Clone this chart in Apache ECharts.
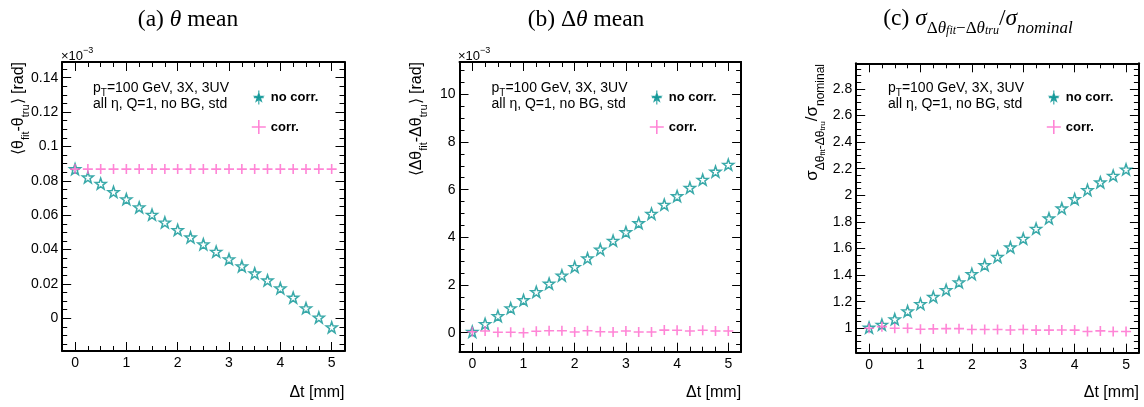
<!DOCTYPE html>
<html><head><meta charset="utf-8">
<script src="https://cdn.jsdelivr.net/npm/echarts@6/dist/echarts.min.js"></script>
<style>html,body{margin:0;padding:0;background:#fff}#c{width:1144px;height:407px}</style>
</head><body><div id="c"></div>
<script>
// ---------------- data ----------------
const deltaT = [0,0.25,0.5,0.75,1,1.25,1.5,1.75,2,2.25,2.5,2.75,3,3.25,3.5,3.75,4,4.25,4.5,4.75,5];
const xTickLabels = [0,1,2,3,4,5];
const seriesNames = ['no corr.','corr.'];
// (a) <theta_fit - theta_tru> [rad] x1e-3
const thetaMeanNoCorr = [0.0868,0.0820,0.0783,0.0735,0.0693,0.0646,0.0603,0.0558,0.0514,0.0471,0.0431,0.0388,0.0344,0.0303,0.0262,0.0221,0.0175,0.0121,0.0059,0.0005,-0.0052];
const thetaMeanCorr   = [0.0868,0.0868,0.0868,0.0868,0.0868,0.0868,0.0868,0.0868,0.0868,0.0868,0.0868,0.0868,0.0868,0.0868,0.0868,0.0868,0.0868,0.0868,0.0868,0.0868,0.0868];
// (b) <dtheta_fit - dtheta_tru> [rad] x1e-3
const dThetaMeanNoCorr = [0.04,0.37,0.70,1.03,1.37,1.71,2.06,2.40,2.76,3.12,3.49,3.86,4.22,4.60,4.99,5.37,5.73,6.08,6.42,6.76,7.05];
const dThetaMeanCorr   = [0.04,0.07,0.02,0.02,0.00,0.06,0.08,0.08,0.03,0.08,0.04,0.03,0.07,0.03,0.03,0.11,0.10,0.07,0.10,0.07,0.07];
// (c) sigma ratio
const sigmaRatioNoCorr = [1.005,1.027,1.068,1.128,1.183,1.236,1.288,1.346,1.408,1.475,1.537,1.609,1.674,1.749,1.827,1.902,1.972,2.040,2.098,2.148,2.195];
const sigmaRatioCorr   = [1.000,1.012,1.000,1.000,0.992,0.995,0.997,0.997,0.990,0.990,0.990,0.987,0.990,0.986,0.986,0.987,0.986,0.976,0.980,0.976,0.976];
// tick labels
const yTicksA = [0,0.02,0.04,0.06,0.08,0.1,0.12,0.14];
const yTicksB = [0,2,4,6,8,10];
const yTicksC = [1,1.2,1.4,1.6,1.8,2,2.2,2.4,2.6,2.8];

// ---------------- styling ----------------
const TEAL = '#089393';
const PINK = '#ff66cc';
const SANS = 'Liberation Sans, Arial, sans-serif';
const SERIF = 'Liberation Serif, Times New Roman, serif';

function starPath(cx, cy, R, r) {
  const p = [];
  for (let i = 0; i < 10; i++) {
    const a = -Math.PI / 2 + i * Math.PI / 5;
    const rr = i % 2 ? r : R;
    p.push((cx + rr * Math.cos(a)).toFixed(2) + ',' + (cy + rr * Math.sin(a)).toFixed(2));
  }
  return 'M' + p.join('L') + 'Z';
}
const STAR = 'path://' + starPath(10, 10, 10, 4);
const PLUS = 'path://M10,0L10,20M0,10L20,10';
const LEG_STAR = 'path://' + starPath(10, 10, 6.5, 2.6) + 'M10,0L10,20M3,10L17,10';

const panels = [
  {left:62.2, top:62, width:282.3, height:289, ymin:-0.019, ymax:0.1491, yMajor:yTicksA, yStep:0.005, noCorr:thetaMeanNoCorr, corr:thetaMeanCorr},
  {left:459.5, top:62, width:281.6, height:289.7, ymin:-0.797, ymax:11.355, yMajor:yTicksB, yStep:0.5, noCorr:dThetaMeanNoCorr, corr:dThetaMeanCorr},
  {left:856.2, top:63.3, width:282.7, height:289.4, ymin:0.816, ymax:2.993, yMajor:yTicksC, yStep:0.05, noCorr:sigmaRatioNoCorr, corr:sigmaRatioCorr}
];
const XMIN = -0.25, XMAX = 5.25;

function minorTicks(min, max, step) {
  const out = [];
  for (let k = Math.ceil(min / step - 1e-9); k * step <= max + 1e-9; k++) out.push(+(k * step).toFixed(6));
  return out;
}
const fmt = v => String(+(+v).toFixed(4));

const grid = [], xAxis = [], yAxis = [], series = [];
panels.forEach((p, g) => {
  grid.push({left:p.left, top:p.top, width:p.width, height:p.height, show:false});
  const xMinor = minorTicks(XMIN, XMAX, 0.25);
  const yMinor = minorTicks(p.ymin, p.ymax, p.yStep);
  const lineMain = {show:true, onZero:false, lineStyle:{color:'#000', width:2}};
  const noLine = {show:false, onZero:false};
  ['bottom','top'].forEach(pos => {
    xAxis.push({gridIndex:g, type:'value', position:pos, min:XMIN, max:XMAX, axisLine:lineMain, splitLine:{show:false},
      axisTick:{show:true, inside:true, length:9, customValues:xTickLabels, lineStyle:{color:'#000', width:1}},
      axisLabel:{show:pos==='bottom', customValues:xTickLabels, formatter:fmt, margin:5, color:'#000', fontSize:14, fontFamily:SANS}});
    xAxis.push({gridIndex:g, type:'value', position:pos, min:XMIN, max:XMAX, axisLine:noLine, splitLine:{show:false},
      axisTick:{show:true, inside:true, length:5, customValues:xMinor, lineStyle:{color:'#000', width:1}},
      axisLabel:{show:false}});
  });
  ['left','right'].forEach(pos => {
    yAxis.push({gridIndex:g, type:'value', position:pos, min:p.ymin, max:p.ymax, axisLine:lineMain, splitLine:{show:false},
      axisTick:{show:true, inside:true, length:9, customValues:p.yMajor, lineStyle:{color:'#000', width:1}},
      axisLabel:{show:pos==='left', customValues:p.yMajor, formatter:fmt, margin:4, color:'#000', fontSize:14, fontFamily:SANS}});
    yAxis.push({gridIndex:g, type:'value', position:pos, min:p.ymin, max:p.ymax, axisLine:noLine, splitLine:{show:false},
      axisTick:{show:true, inside:true, length:5, customValues:yMinor, lineStyle:{color:'#000', width:1}},
      axisLabel:{show:false}});
  });
  series.push({name:seriesNames[0], type:'scatter', xAxisIndex:4*g, yAxisIndex:4*g,
    data:deltaT.map((t,i)=>[t, p.noCorr[i]]), symbol:STAR, symbolSize:11,
    itemStyle:{color:'rgba(0,0,0,0)', borderColor:TEAL, borderWidth:1.5}, emphasis:{disabled:true}, z:3});
  series.push({name:seriesNames[1], type:'scatter', xAxisIndex:4*g, yAxisIndex:4*g,
    data:deltaT.map((t,i)=>[t, p.corr[i]]), symbol:PLUS, symbolSize:10,
    itemStyle:{color:'rgba(0,0,0,0)', borderColor:PINK, borderWidth:1.6}, emphasis:{disabled:true}, z:4});
});

const legendX = [246, 644, 1041];
const legend = legendX.map(x => ({
  left:x, top:85, orient:'vertical', itemWidth:14, itemHeight:14, itemGap:14, selectedMode:false,
  textStyle:{fontFamily:SANS, fontWeight:'bold', fontSize:13, color:'#000'},
  data:[
    {name:seriesNames[0], icon:LEG_STAR, itemStyle:{color:TEAL, borderColor:TEAL, borderWidth:1.2}},
    {name:seriesNames[1], icon:PLUS, itemStyle:{color:'rgba(0,0,0,0)', borderColor:PINK, borderWidth:1.6}}
  ]
}));

// ---------------- texts ----------------
const graphic = [];
function txt(x, y, text, o) {
  graphic.push(Object.assign({type:'text', x:x, y:y, silent:true,
    style:Object.assign({text:text, fill:'#000'}, o.style)}, o.el || {}));
}
// titles
const titleRich = {
  m:{fontFamily:SERIF, fontSize:23.5, lineHeight:36, verticalAlign:'middle'},
  i:{fontFamily:SERIF, fontSize:23.5, fontStyle:'italic', lineHeight:36, verticalAlign:'middle'},
  s:{fontFamily:SERIF, fontSize:17, lineHeight:24, verticalAlign:'bottom'},
  si:{fontFamily:SERIF, fontSize:17, fontStyle:'italic', lineHeight:24, verticalAlign:'bottom'},
  ss:{fontFamily:SERIF, fontSize:12, fontStyle:'italic', lineHeight:15, verticalAlign:'bottom'}
};
txt(188, 20, '{m|(a) }{i|θ}{m| mean}', {style:{rich:titleRich, align:'center', verticalAlign:'middle'}});
txt(586, 20, '{m|(b) Δ}{i|θ}{m| mean}', {style:{rich:titleRich, align:'center', verticalAlign:'middle'}});
txt(978, 19, '{m|(c) }{i|σ}{s|Δ}{si|θ}{ss|fit}{s|−Δ}{si|θ}{ss|tru}{m|/}{i|σ}{si|nominal}', {style:{rich:titleRich, align:'center', verticalAlign:'middle'}});

// y-axis titles (rotated)
const yRich = {
  m:{fontFamily:SANS, fontSize:16, lineHeight:24, verticalAlign:'middle'},
  s:{fontFamily:SANS, fontSize:11, lineHeight:12, verticalAlign:'bottom'}
};
const yRichC = {
  m:{fontFamily:SANS, fontSize:17, lineHeight:30, verticalAlign:'middle'},
  s:{fontFamily:SANS, fontSize:12, lineHeight:18, verticalAlign:'bottom'},
  ss:{fontFamily:SANS, fontSize:8, lineHeight:9, verticalAlign:'bottom'}
};
txt(19, 62, '{m|⟨θ}{s|fit}{m|-θ}{s|tru}{m|⟩ [rad]}', {style:{rich:yRich, align:'right', verticalAlign:'middle'}, el:{rotation:Math.PI/2}});
txt(417, 62, '{m|⟨Δθ}{s|fit}{m|-Δθ}{s|tru}{m|⟩ [rad]}', {style:{rich:yRich, align:'right', verticalAlign:'middle'}, el:{rotation:Math.PI/2}});
txt(812, 64, '{m|σ}{s|Δθ}{ss|fit}{s|-Δθ}{ss|tru}{m|/σ}{s|nominal}', {style:{rich:yRichC, align:'right', verticalAlign:'middle'}, el:{rotation:Math.PI/2}});

// x-axis titles
panels.forEach(p => {
  txt(p.left + p.width, 393, 'Δt [mm]', {style:{font:'16px ' + SANS, align:'right', verticalAlign:'middle'}});
});

// exponent labels
const expRich = {
  m:{fontFamily:SANS, fontSize:13, lineHeight:20, verticalAlign:'middle', color:'#222'},
  u:{fontFamily:SANS, fontSize:9, lineHeight:9, verticalAlign:'top', color:'#222'}
};
txt(61, 56, '{m|×10}{u|−3}', {style:{rich:expRich, align:'left', verticalAlign:'middle'}});
txt(458, 56, '{m|×10}{u|−3}', {style:{rich:expRich, align:'left', verticalAlign:'middle'}});

// annotation text
const annRich = {
  m:{fontFamily:SANS, fontSize:14, lineHeight:20, verticalAlign:'middle'},
  s:{fontFamily:SANS, fontSize:10, lineHeight:8, verticalAlign:'bottom'}
};
[93, 491.5, 888].forEach(x => {
  txt(x, 88, '{m|p}{s|T}{m|=100 GeV, 3X, 3UV}', {style:{rich:annRich, align:'left', verticalAlign:'middle'}});
  txt(x, 104, 'all η, Q=1, no BG, std', {style:{font:'14px ' + SANS, align:'left', verticalAlign:'middle'}});
});

const chart = echarts.init(document.getElementById('c'), null, {renderer:'canvas'});
chart.setOption({
  animation:false, backgroundColor:'#fff',
  grid, xAxis, yAxis, series, legend, graphic,
  tooltip:{show:false}
});
</script></body></html>
